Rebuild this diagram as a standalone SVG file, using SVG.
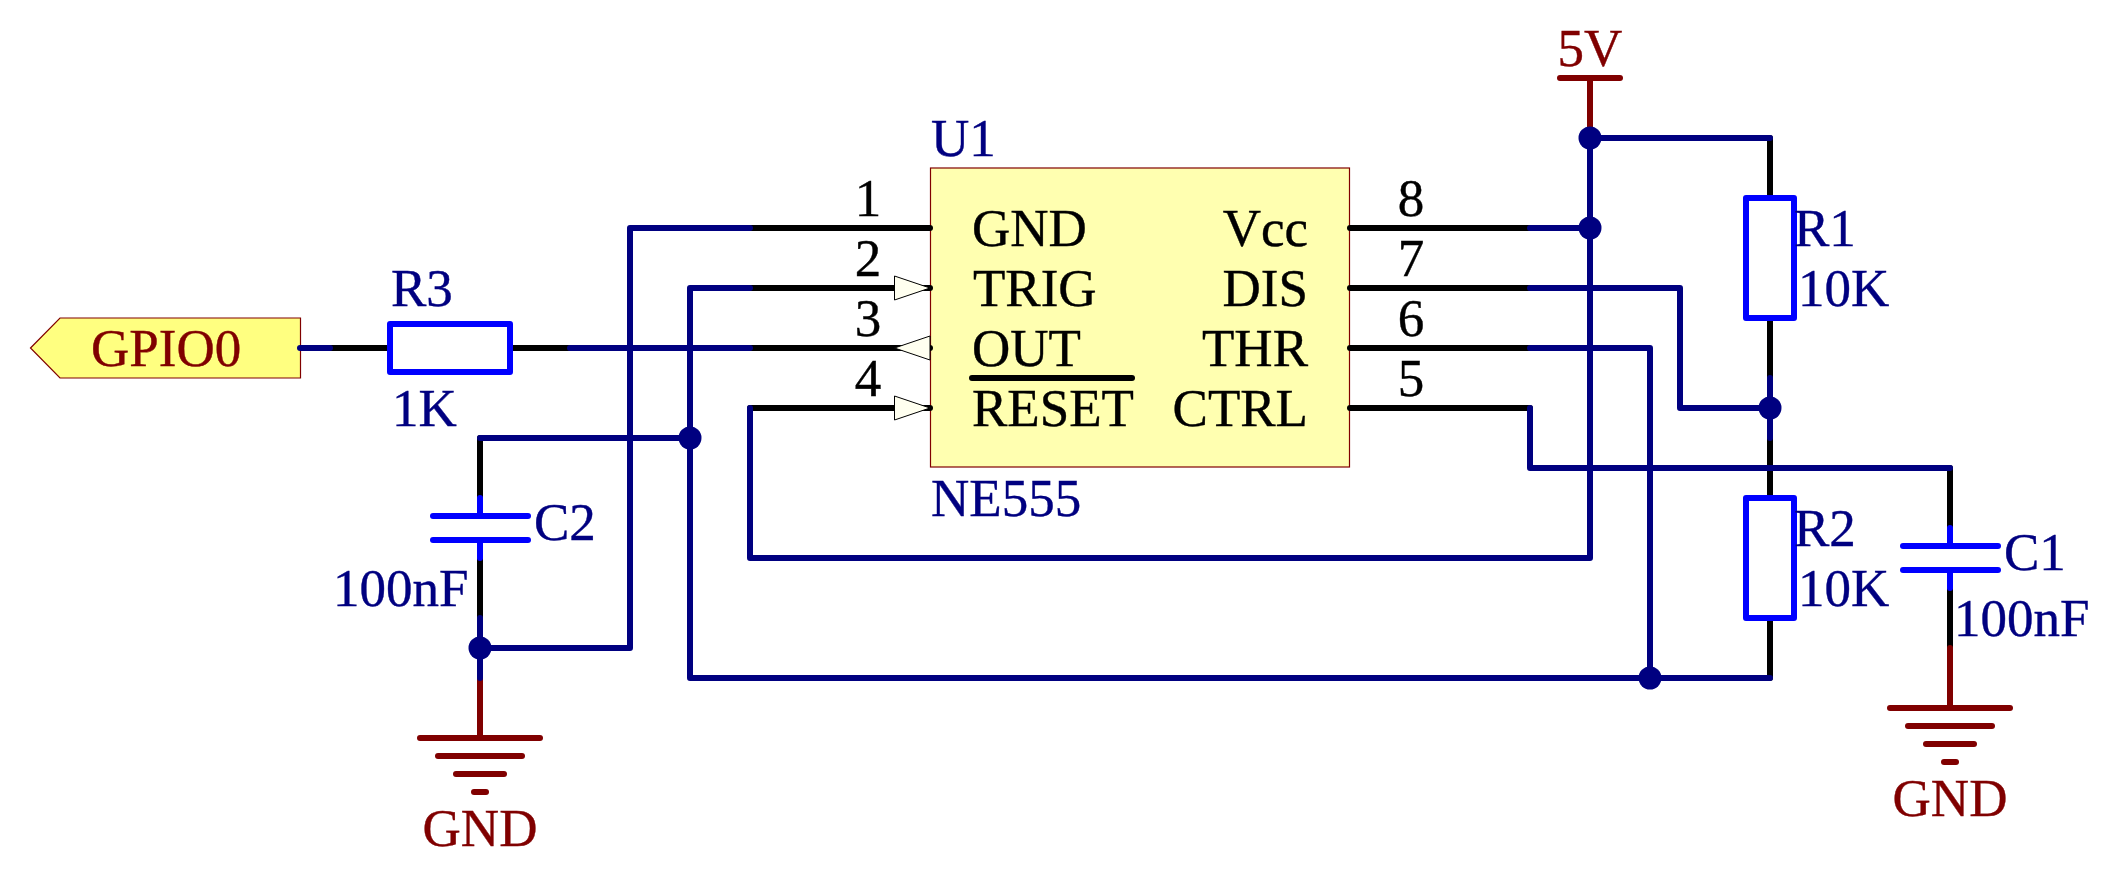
<svg xmlns="http://www.w3.org/2000/svg" width="2119" height="876" viewBox="0 0 2119 876">
<style>
text{font-family:"Liberation Serif","Times New Roman",serif;font-size:53px;stroke-width:.4}
.n{fill:#000080;stroke:#000080}.k{fill:#000;stroke:#000}.r{fill:#800000;stroke:#800000}
.mid{text-anchor:middle}.end{text-anchor:end}
line,polyline,rect.s{stroke-linecap:round;stroke-linejoin:round;fill:none}
.lead{stroke:#000;stroke-width:6}
.sym{stroke:#00f;stroke-width:6}
.pow{stroke:#800000;stroke-width:6}
.wire{stroke:#000080;stroke-width:6}
.tri{fill:#fffff0;stroke:#000;stroke-width:1}
</style>
<rect width="2119" height="876" fill="#fff"/>
<g id="GPIO0">
<polygon points="30.5,348 60,318 300.5,318 300.5,378 60,378" fill="#ffff80" stroke="#800000" stroke-width="1.2"/>
<text x="91" y="366" class="r">GPIO0</text>
</g>
<g id="R3">
<line class="lead" x1="330" y1="348" x2="390" y2="348"/><line class="lead" x1="510" y1="348" x2="570" y2="348"/>
<rect class="s sym" x="390" y="324" width="120" height="48"/>
<text x="391" y="306" class="n">R3</text><text x="392" y="426" class="n">1K</text>
</g>
<g id="U1">
<rect x="930.5" y="168" width="419" height="299" fill="#ffffb0" stroke="#800000" stroke-width="1.2"/>
<line class="lead" x1="750" y1="228" x2="930" y2="228"/><line class="lead" x1="750" y1="288" x2="930" y2="288"/><line class="lead" x1="750" y1="348" x2="930" y2="348"/><line class="lead" x1="750" y1="408" x2="930" y2="408"/>
<line class="lead" x1="1350" y1="228" x2="1530" y2="228"/><line class="lead" x1="1350" y1="288" x2="1530" y2="288"/><line class="lead" x1="1350" y1="348" x2="1530" y2="348"/><line class="lead" x1="1350" y1="408" x2="1530" y2="408"/>
<polygon class="tri" points="894.5,276 930,288 894.5,300"/><polygon class="tri" points="930,336 894.5,348 930,360"/><polygon class="tri" points="894.5,396 930,408 894.5,420"/>
<line x1="972" y1="378" x2="1132" y2="378" stroke="#000" stroke-width="6"/>
<text x="931" y="156" class="n">U1</text><text x="931" y="516" class="n">NE555</text>
<text x="868" y="216" class="k mid">1</text><text x="868" y="276" class="k mid">2</text><text x="868" y="336" class="k mid">3</text><text x="868" y="396" class="k mid">4</text>
<text x="1411" y="216" class="k mid">8</text><text x="1411" y="276" class="k mid">7</text><text x="1411" y="336" class="k mid">6</text><text x="1411" y="396" class="k mid">5</text>
<text x="972" y="246" class="k">GND</text><text x="973" y="306" class="k">TRIG</text><text x="972" y="366" class="k">OUT</text><text x="972" y="426" class="k">RESET</text>
<text x="1308" y="246" class="k end">Vcc</text><text x="1308" y="306" class="k end">DIS</text><text x="1308" y="366" class="k end">THR</text><text x="1308" y="426" class="k end">CTRL</text>
</g>
<g id="VCC5V">
<line class="pow" x1="1560" y1="78" x2="1620" y2="78"/><line class="pow" x1="1590" y1="78" x2="1590" y2="138"/>
<text x="1590" y="66" class="r mid">5V</text>
</g>
<g id="R1">
<line class="lead" x1="1770" y1="138" x2="1770" y2="198"/><line class="lead" x1="1770" y1="318" x2="1770" y2="378"/>
<rect class="s sym" x="1746" y="198" width="48" height="120"/>
<text x="1794" y="246" class="n">R1</text><text x="1798" y="306" class="n">10K</text>
</g>
<g id="R2">
<line class="lead" x1="1770" y1="438" x2="1770" y2="498"/><line class="lead" x1="1770" y1="618" x2="1770" y2="678"/>
<rect class="s sym" x="1746" y="498" width="48" height="120"/>
<text x="1794" y="546" class="n">R2</text><text x="1798" y="606" class="n">10K</text>
</g>
<g id="C1">
<line class="lead" x1="1950" y1="468" x2="1950" y2="528"/><line class="lead" x1="1950" y1="588" x2="1950" y2="648"/>
<line class="sym" x1="1950" y1="528" x2="1950" y2="546"/><line class="sym" x1="1950" y1="570" x2="1950" y2="588"/>
<line class="sym" x1="1903" y1="546" x2="1998" y2="546"/><line class="sym" x1="1903" y1="570" x2="1998" y2="570"/>
<text x="2004" y="570" class="n">C1</text><text x="1954" y="636" class="n">100nF</text>
</g>
<g id="C2">
<line class="lead" x1="480" y1="438" x2="480" y2="498"/><line class="lead" x1="480" y1="558" x2="480" y2="618"/>
<line class="sym" x1="480" y1="498" x2="480" y2="516"/><line class="sym" x1="480" y1="540" x2="480" y2="558"/>
<line class="sym" x1="433" y1="516" x2="528" y2="516"/><line class="sym" x1="433" y1="540" x2="528" y2="540"/>
<text x="534" y="540" class="n">C2</text><text x="333" y="606" class="n">100nF</text>
</g>
<g id="GND1">
<line class="pow" x1="1950" y1="648" x2="1950" y2="708"/>
<line class="pow" x1="1890" y1="708" x2="2010" y2="708"/><line class="pow" x1="1908" y1="726" x2="1992" y2="726"/><line class="pow" x1="1926" y1="744" x2="1974" y2="744"/><line class="pow" x1="1944" y1="762" x2="1956" y2="762"/>
<text x="1950" y="816" class="r mid">GND</text>
</g>
<g id="GND2">
<line class="pow" x1="480" y1="678" x2="480" y2="738"/>
<line class="pow" x1="420" y1="738" x2="540" y2="738"/><line class="pow" x1="438" y1="756" x2="522" y2="756"/><line class="pow" x1="456" y1="774" x2="504" y2="774"/><line class="pow" x1="474" y1="792" x2="486" y2="792"/>
<text x="480" y="846" class="r mid">GND</text>
</g>
<g id="connectors">
<line class="wire" x1="300" y1="348" x2="330" y2="348"/>
<line class="wire" x1="570" y1="348" x2="750" y2="348"/>
<polyline class="wire" points="480,618 480,678"/>
<polyline class="wire" points="480,438 690,438"/>
<polyline class="wire" points="480,648 630,648 630,228 750,228"/>
<polyline class="wire" points="750,288 690,288 690,678 1770,678"/>
<polyline class="wire" points="750,408 750,558 1590,558 1590,138 1770,138"/>
<line class="wire" x1="1530" y1="228" x2="1590" y2="228"/>
<polyline class="wire" points="1530,288 1680,288 1680,408 1770,408"/>
<polyline class="wire" points="1530,348 1650,348 1650,678"/>
<polyline class="wire" points="1530,408 1530,468 1950,468"/>
<line class="wire" x1="1770" y1="378" x2="1770" y2="438"/>
<g fill="#000080">
<circle cx="1590" cy="138" r="11.5"/><circle cx="1590" cy="228" r="11.5"/><circle cx="1770" cy="408" r="11.5"/><circle cx="690" cy="438" r="11.5"/><circle cx="480" cy="648" r="11.5"/><circle cx="1650" cy="678" r="11.5"/>
</g>
</g>
</svg>
